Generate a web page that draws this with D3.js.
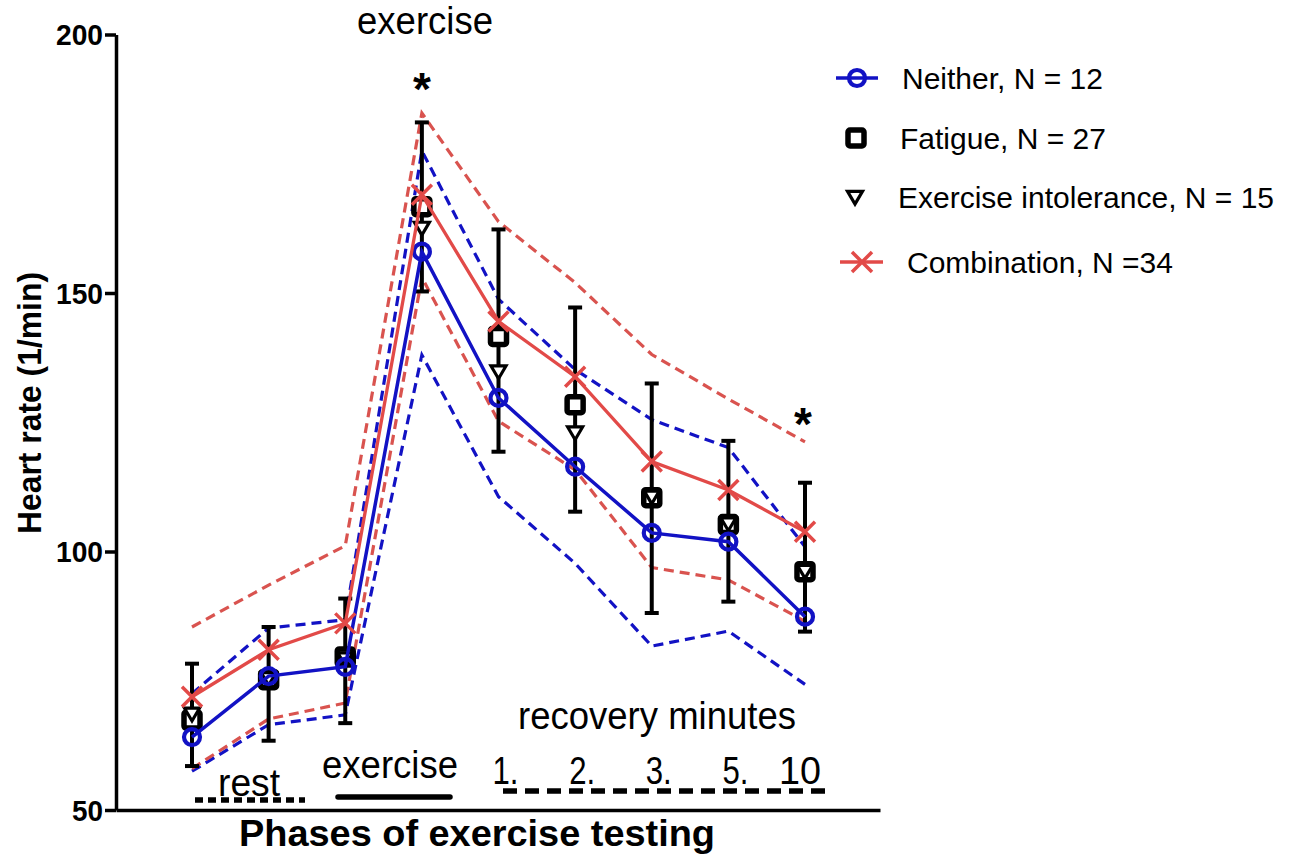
<!DOCTYPE html>
<html>
<head>
<meta charset="utf-8">
<script src="https://cdn.jsdelivr.net/npm/d3@7"></script>
<style>
  html, body { margin: 0; padding: 0; background: #fff; }
  svg { display: block; }
  text { font-family: "Liberation Sans", Arial, sans-serif; }
</style>
</head>
<body>
<svg id="chart" width="1309" height="855"></svg>
<script>
// ---- data ----
const categories = ["rest 1", "rest 2", "rest 3", "exercise", "1.", "2.", "3.", "5.", "10"];
const yTicks = [50, 100, 150, 200];

const neitherMean  = [64.1, 75.9, 77.7, 158.0, 129.7, 116.4, 103.6, 101.9, 87.4];
const neitherUpper = [72.5, 85.2, 86.8, 177.5, 148.8, 135.2, 125.5, 120.1, 100.9];
const neitherLower = [57.5, 66.5, 68.4, 138.0, 110.6, 97.7, 81.7, 84.6, 74.3];

const comboMean  = [71.9, 81.0, 86.1, 169.0, 144.5, 133.8, 117.4, 111.9, 103.8];
const comboUpper = [85.4, 93.5, 101.1, 184.8, 163.8, 152.0, 138.1, 129.5, 121.2];
const comboLower = [58.0, 67.6, 70.7, 153.0, 125.2, 115.8, 96.9, 94.5, 86.5];

const fatigueMean = [67.4, 75.2, 79.6, 166.7, 141.6, 128.4, 110.4, 105.2, 96.1];
const fatigueHigh = [78.3, 85.4, 90.9, 183.0, 162.3, 147.2, 132.5, 121.4, 113.3];
const fatigueLow  = [58.5, 63.4, 66.8, 150.3, 119.3, 107.7, 88.1, 90.3, 84.5];

const intolMean = [68.6, 75.5, 79.3, 162.6, 134.8, 123.0, 110.6, 105.4, 96.2];

const recoveryLabels = ["1.", "2.", "3.", "5.", "10"];
const significant = ["exercise", "10"];

const legendItems = ["Neither, N = 12", "Fatigue, N = 27", "Exercise intolerance, N = 15", "Combination, N =34"];

// ---- styles ----
const BLUE = "#1212c4";
const RED = "#e24a48";
const REDD = "#d9534f";

const svg = d3.select("#chart");

const x = d3.scalePoint().domain(categories).range([192, 805]);
const y = d3.scaleLinear().domain([50, 200]).range([810, 34.5]);
const xAxisScale = d3.scaleLinear().domain([0, 1]).range([116, 880]);

// axes
const yAxis = svg.append("g")
  .attr("transform", "translate(116,0)")
  .call(d3.axisLeft(y).tickValues(yTicks).tickSize(11).tickSizeOuter(0).tickPadding(2).tickFormat(d3.format("d")));
yAxis.select(".domain").attr("stroke", "#000").attr("stroke-width", 3.5);
yAxis.selectAll(".tick line").attr("stroke", "#000").attr("stroke-width", 3.5);
yAxis.selectAll(".tick text")
  .attr("fill", "#000")
  .style("font-size", "29px").style("font-weight", "bold")
  .attr("textLength", d => d >= 100 ? 47 : 31).attr("lengthAdjust", "spacingAndGlyphs")
  .attr("dy", "0.36em");

const xAxis = svg.append("g")
  .attr("transform", "translate(0,810)")
  .call(d3.axisBottom(xAxisScale).tickValues([]).tickSizeOuter(0));
xAxis.select(".domain").attr("stroke", "#000").attr("stroke-width", 3.5);

// axis titles
svg.append("text")
  .attr("transform", "translate(41,403) rotate(-90)")
  .attr("text-anchor", "middle")
  .style("font-size", "34px").style("font-weight", "bold")
  .attr("textLength", 262).attr("lengthAdjust", "spacingAndGlyphs")
  .text("Heart rate (1/min)");

svg.append("text")
  .attr("x", 477).attr("y", 846)
  .attr("text-anchor", "middle")
  .style("font-size", "37px").style("font-weight", "bold")
  .attr("textLength", 476).attr("lengthAdjust", "spacingAndGlyphs")
  .text("Phases of exercise testing");

// phase annotations
svg.append("text").attr("x", 425).attr("y", 34).attr("text-anchor", "middle")
  .style("font-size", "38px").attr("textLength", 136).attr("lengthAdjust", "spacingAndGlyphs").text("exercise");
svg.append("text").attr("x", 390).attr("y", 778).attr("text-anchor", "middle")
  .style("font-size", "39px").attr("textLength", 136).attr("lengthAdjust", "spacingAndGlyphs").text("exercise");
svg.append("text").attr("x", 249).attr("y", 796).attr("text-anchor", "middle")
  .style("font-size", "39px").attr("textLength", 62).attr("lengthAdjust", "spacingAndGlyphs").text("rest");
svg.append("text").attr("x", 657).attr("y", 729).attr("text-anchor", "middle")
  .style("font-size", "39px").attr("textLength", 278).attr("lengthAdjust", "spacingAndGlyphs").text("recovery minutes");
svg.selectAll(".reclab").data(recoveryLabels).enter().append("text")
  .attr("class", "reclab")
  .attr("x", d => x(d) + (d === "10" ? -5 : 7))
  .attr("y", 784).attr("text-anchor", "middle")
  .style("font-size", "39px")
  .attr("textLength", d => d === "10" ? 42 : 26).attr("lengthAdjust", "spacingAndGlyphs")
  .text(d => d);

// phase underline marks
svg.append("line").attr("x1", 195).attr("x2", 305).attr("y1", 800).attr("y2", 800)
  .attr("stroke", "#000").attr("stroke-width", 5.5).attr("stroke-dasharray", "8,5");
svg.append("line").attr("x1", 338).attr("x2", 450).attr("y1", 797).attr("y2", 797)
  .attr("stroke", "#000").attr("stroke-width", 5.5).attr("stroke-linecap", "round");
svg.append("line").attr("x1", 503).attr("x2", 830).attr("y1", 791).attr("y2", 791)
  .attr("stroke", "#000").attr("stroke-width", 5.5).attr("stroke-dasharray", "14,8");

// significance stars
svg.selectAll(".star").data(significant).enter().append("text")
  .attr("class", "star")
  .attr("x", d => x(d) + (d === "10" ? -2 : 0))
  .attr("y", d => d === "10" ? 440 : 105)
  .attr("text-anchor", "middle")
  .style("font-size", "46px").style("font-weight", "bold")
  .text("*");

const plot = svg.append("g");
const idx = d3.range(categories.length);
const line = arr => d3.line().x(i => x(categories[i])).y(i => y(arr[i]))(idx);

// dashed SD lines
[[neitherUpper, BLUE], [neitherLower, BLUE], [comboUpper, REDD], [comboLower, REDD]].forEach(([arr, c]) => {
  plot.append("path").attr("d", line(arr)).attr("fill", "none")
    .attr("stroke", c).attr("stroke-width", 3.2).attr("stroke-dasharray", "10,6");
});

// error bars (Fatigue)
const eb = plot.append("g");
idx.forEach(i => {
  const cx = x(categories[i]);
  eb.append("line").attr("x1", cx).attr("x2", cx).attr("y1", y(fatigueHigh[i])).attr("y2", y(fatigueLow[i]))
    .attr("stroke", "#000").attr("stroke-width", 4);
  [fatigueHigh[i], fatigueLow[i]].forEach(v => {
    eb.append("line").attr("x1", cx - 7).attr("x2", cx + 7).attr("y1", y(v)).attr("y2", y(v))
      .attr("stroke", "#000").attr("stroke-width", 4);
  });
});

// squares (Fatigue)
plot.selectAll(".sq").data(idx).enter().append("rect").attr("class", "sq")
  .attr("x", i => x(categories[i]) - 8).attr("y", i => y(fatigueMean[i]) - 8)
  .attr("width", 16).attr("height", 16).attr("rx", 2)
  .attr("fill", "#fff").attr("stroke", "#000").attr("stroke-width", 5.5);

// triangles (Exercise intolerance)
const triPath = (cx, cy, s) => `M${cx - s},${cy - s * 0.75}L${cx + s},${cy - s * 0.75}L${cx},${cy + s * 0.95}Z`;
plot.selectAll(".tri").data(idx).enter().append("path").attr("class", "tri")
  .attr("d", i => triPath(x(categories[i]), y(intolMean[i]), 7.5))
  .attr("fill", "#fff").attr("stroke", "#000").attr("stroke-width", 3.2).attr("stroke-linejoin", "miter");

// Neither: line + circles
plot.append("path").attr("d", line(neitherMean)).attr("fill", "none").attr("stroke", BLUE).attr("stroke-width", 3.5);
plot.selectAll(".circ").data(idx).enter().append("circle").attr("class", "circ")
  .attr("cx", i => x(categories[i])).attr("cy", i => y(neitherMean[i])).attr("r", 8)
  .attr("fill", "none").attr("stroke", BLUE).attr("stroke-width", 4.2);

// Combination: line + crosses
plot.append("path").attr("d", line(comboMean)).attr("fill", "none").attr("stroke", RED).attr("stroke-width", 3.3);
const crossPath = (cx, cy, s) => `M${cx - s},${cy - s}L${cx + s},${cy + s}M${cx - s},${cy + s}L${cx + s},${cy - s}`;
plot.selectAll(".cross").data(idx).enter().append("path").attr("class", "cross")
  .attr("d", i => crossPath(x(categories[i]), y(comboMean[i]), 10))
  .attr("stroke", RED).attr("stroke-width", 3.5).attr("fill", "none");

// legend
const leg = svg.append("g");
const rowsY = [78, 138, 197, 262];
const textX = [902, 900, 898, 907];
// Neither
leg.append("line").attr("x1", 836).attr("x2", 878).attr("y1", rowsY[0]).attr("y2", rowsY[0]).attr("stroke", BLUE).attr("stroke-width", 3.5);
leg.append("circle").attr("cx", 857).attr("cy", rowsY[0]).attr("r", 8).attr("fill", "none").attr("stroke", BLUE).attr("stroke-width", 4.2);
// Fatigue
leg.append("rect").attr("x", 848).attr("y", rowsY[1] - 8).attr("width", 16).attr("height", 16).attr("rx", 2)
  .attr("fill", "#fff").attr("stroke", "#000").attr("stroke-width", 5.5);
// Exercise intolerance
leg.append("path").attr("d", triPath(855, rowsY[2], 7.5)).attr("fill", "#fff").attr("stroke", "#000").attr("stroke-width", 3.2);
// Combination
leg.append("line").attr("x1", 840).attr("x2", 883).attr("y1", rowsY[3]).attr("y2", rowsY[3]).attr("stroke", RED).attr("stroke-width", 3.3);
leg.append("path").attr("d", crossPath(862, rowsY[3], 10)).attr("stroke", RED).attr("stroke-width", 3.5).attr("fill", "none");

leg.selectAll(".lt").data(legendItems).enter().append("text").attr("class", "lt")
  .attr("x", (d, i) => textX[i]).attr("y", (d, i) => rowsY[i] + 11)
  .style("font-size", "30px")
  .text(d => d);
</script>
</body>
</html>
